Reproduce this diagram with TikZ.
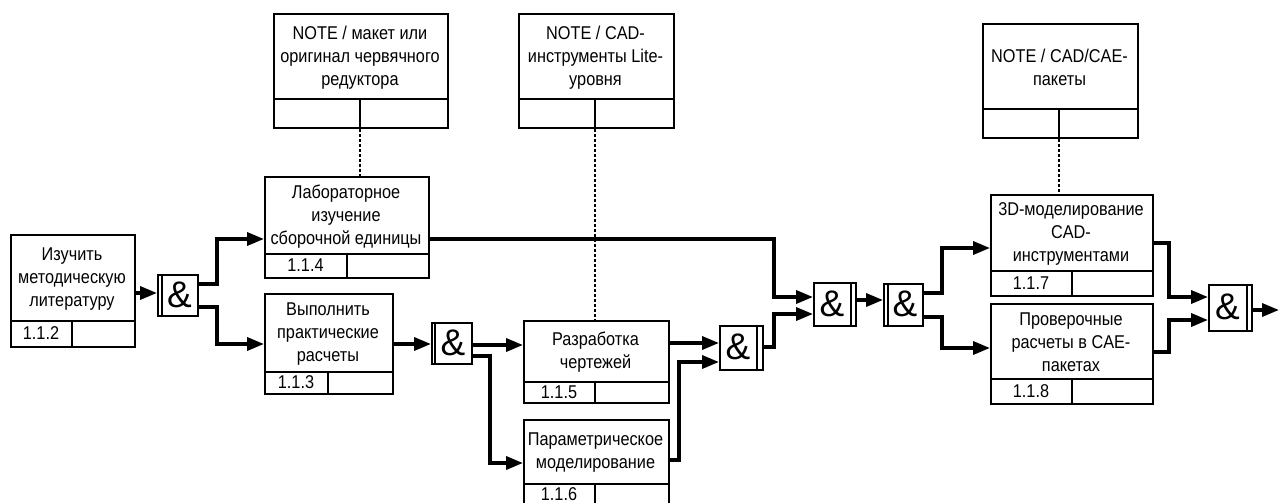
\documentclass[tikz,border=0pt]{standalone}
\usepackage{fontspec}
\setmainfont{Liberation Sans}[FakeStretch=0.88]
\newfontfamily\ampfont{Liberation Sans}
\usetikzlibrary{arrows.meta,calc}
\tikzset{
  frame/.style={draw, line width=1.8pt, inner sep=0pt, anchor=north west},
  rule/.style={line width=1.8pt},
  txt/.style={align=center, font=\fontsize{18.5}{23}\selectfont, inner sep=0pt},
  num/.style={font=\fontsize{18.5}{20}\selectfont, inner sep=0pt},
  amp/.style={font=\ampfont\fontsize{37}{37}\selectfont, inner sep=0pt},
  conn/.style={line width=3.5pt, -{Triangle[length=17pt,width=13pt]}},
  link/.style={line width=1.4pt, dash pattern=on 3pt off 2pt},
}
\newcommand\wbox[9]{%
  \node[frame, minimum width={(#4-#2)*1pt}, minimum height={(#5-#3)*1pt}] (#1) at (#2,#3) {};
  \draw[rule] (#2,#6) -- (#4,#6);
  \draw[rule] (#7,#6) -- (#7,#5);
  \node[txt] (#1t) at ({(#2+#4)/2},{(#3+#6)/2+1.5}) {#8};
  \node[num] (#1n) at ({(#2+#7)/2},{(#6+#5)/2}) {#9};
}
\newcommand\junc[6]{%
  \node[frame, minimum width={(#4-#2)*1pt}, minimum height={(#5-#3)*1pt}] (#1) at (#2,#3) {};
  \draw[rule] (#6,#3) -- (#6,#5);
  \ifdim #6pt<\dimexpr(#2pt+#4pt)/2\relax
    \node[amp] (#1a) at ({(#6+#4)/2},{(#3+#5)/2}) {\&};
  \else
    \node[amp] (#1a) at ({(#2+#6)/2},{(#3+#5)/2}) {\&};
  \fi
}
\begin{document}
\begin{tikzpicture}[x=1pt,y=-1pt]
\useasboundingbox (0,0) rectangle (1279,503);
% notes
\wbox{n1}{273}{13}{447}{127}{99}{360}{NOTE / макет или\\оригинал червячного\\редуктора}{}
\wbox{n2}{518}{13}{673}{127}{99}{595}{NOTE / CAD-\\инструменты Lite-\\уровня}{}
\wbox{n3}{982}{23}{1137}{137}{109}{1059}{NOTE / CAD/CAE-\\пакеты}{}
% activities
\wbox{b112}{10}{234}{134}{346}{321}{72}{Изучить\\методическую\\литературу}{1.1.2}
\wbox{b114}{264}{176}{428}{277}{254}{347}{Лабораторное\\изучение\\сборочной единицы}{1.1.4}
\wbox{b113}{264}{293}{392}{393}{372}{328}{Выполнить\\практические\\расчеты}{1.1.3}
\wbox{b115}{523}{320}{668}{402}{382}{595}{Разработка\\чертежей}{1.1.5}
\wbox{b116}{523}{419}{668}{505}{484}{595}{Параметрическое\\моделирование}{1.1.6}
\wbox{b117}{990}{194}{1152}{295}{271}{1072}{3D-моделирование\\CAD-\\инструментами}{1.1.7}
\wbox{b118}{990}{303}{1152}{403}{379}{1072}{Проверочные\\расчеты в CAE-\\пакетах}{1.1.8}
% junctions
\junc{j1}{157}{274}{197}{315}{162}
\junc{j2}{431}{322}{471}{363}{435}
\junc{j3}{719}{325}{762}{369}{757}
\junc{j4}{813}{282}{855}{325}{851}
\junc{j5}{883}{283}{922}{325}{888}
\junc{j6}{1208}{284}{1251}{330}{1247}
% note links
\draw[link] (n1.south -| 360,0) -- (b114.north -| 360,0);
\draw[link] (n2.south -| 595,0) -- (b115.north -| 595,0);
\draw[link] (n3.south -| 1059,0) -- (b117.north -| 1059,0);
% connectors
\draw[conn] (b112.east |- 0,293) -- (j1.west |- 0,293);
\draw[conn] (j1.east |- 0,284) -- ++(18,0) |- (b114.west |- 0,239);
\draw[conn] (j1.east |- 0,307) -- ++(18,0) |- (b113.west |- 0,344);
\draw[conn] (b113.east |- 0,344) -- (j2.west |- 0,344);
\draw[conn] (j2.east |- 0,345) -- (b115.west |- 0,345);
\draw[conn] (j2.east |- 0,356) -- ++(17,0) |- (b116.west |- 0,463);
\draw[conn] (b115.east |- 0,343) -- (j3.west |- 0,343);
\draw[conn] (b116.east |- 0,460) -- ++(9,0) |- (j3.west |- 0,362);
\draw[conn] (b114.east |- 0,239) -- ++(344,0) |- (j4.west |- 0,297);
\draw[conn] (j3.east |- 0,347) -- ++(10,0) |- (j4.west |- 0,314);
\draw[conn] (j4.east |- 0,300) -- (j5.west |- 0,300);
\draw[conn] (j5.east |- 0,293) -- ++(18,0) |- (b117.west |- 0,248);
\draw[conn] (j5.east |- 0,317) -- ++(18,0) |- (b118.west |- 0,348);
\draw[conn] (b117.east |- 0,243) -- ++(15,0) |- (j6.west |- 0,297);
\draw[conn] (b118.east |- 0,352) -- ++(15,0) |- (j6.west |- 0,320);
\coordinate (out) at (1279,310);
\draw[conn] (j6.east |- out) -- (out);
\end{tikzpicture}
\end{document}
